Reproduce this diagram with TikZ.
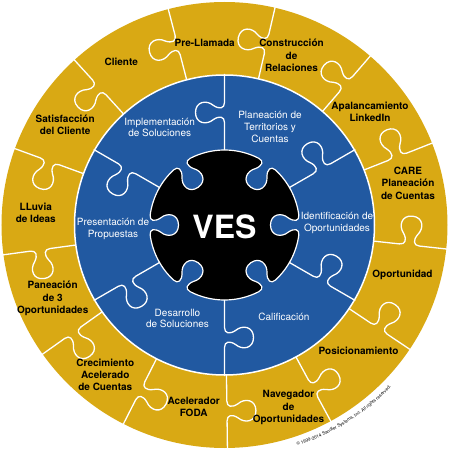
\documentclass[tikz,border=0pt]{standalone}
\usepackage{fontspec}
\setmainfont{TeX Gyre Heros}
\usetikzlibrary{decorations.text}

\definecolor{vesgold}{RGB}{217,169,20}
\definecolor{vesblue}{RGB}{33,89,161}

\tikzset{
  seam/.style={draw=white, line width=1.3pt, line join=round},
  ringlabel/.style={align=center, text=black, font=\bfseries\fontsize{10}{12.3}\selectfont},
  bluelabel/.style={align=center, text=white, font=\fontsize{10}{11.8}\selectfont},
}

\begin{document}
\begin{tikzpicture}[x=1pt, y=1pt]
\useasboundingbox (-224.5,-225) rectangle (224.5,225);

% Outer ring
\fill[vesgold] (0,0) circle (223);
\foreach \k in {0,...,12} {
  \begin{scope}[rotate={104.6+\k*360/13}]
    \draw[seam] (150,0) -- (176,0) .. controls (182,0) and (183,5) .. (179,11)
      .. controls (173,18) and (175,29) .. (186,29) .. controls (197,29) and (199,18) .. (193,11)
      .. controls (189,5) and (190,0) .. (196,0) -- (224,0);
  \end{scope}
}

% Inner ring
\filldraw[fill=vesblue, draw=white, line width=1.5pt] (0,0) circle (150);
\foreach \k in {0,...,5} {
  \begin{scope}[rotate={30+\k*60}]
    \draw[seam] (70,0) -- (102.5,0) .. controls (108.5,0) and (109.5,5) .. (105.5,11)
      .. controls (99.5,18) and (101.5,29) .. (112.5,29) .. controls (123.5,29) and (125.5,18) .. (119.5,11)
      .. controls (115.5,5) and (116.5,0) .. (122.5,0) -- (151,0);
  \end{scope}
}

% Centre piece
\filldraw[fill=black, draw=white, line width=1.2pt] (-7.66:75)
  \foreach \a/\b in {0/55,55/125,125/180,180/235,235/305,305/360} {
    .. controls ([rotate=\a]75,-4) and ([rotate=\a]70,-3) .. ([rotate=\a]64,-7)
    .. controls ([rotate=\a]57,-13) and ([rotate=\a]46,-11) .. ([rotate=\a]46,0)
    .. controls ([rotate=\a]46,11) and ([rotate=\a]57,13) .. ([rotate=\a]64,7)
    .. controls ([rotate=\a]70,3) and ([rotate=\a]75,4) .. (\a+7.66:75)
    arc[start angle=\a+7.66, end angle=\b-7.66, radius=75]
  } -- cycle;
\node[text=white, font=\bfseries\fontsize{32}{34}\selectfont] (ves) at (0,-1.5) {VES};

% Inner labels
\node[bluelabel] (implementacion) at (-64.8,97.5) {Implementación\\de Soluciones};
\node[bluelabel] (planeacion) at (45.5,98.3) {Planeación de\\Territorios y\\Cuentas};
\node[bluelabel] (identificacion) at (112.5,1.7) {Identificación de\\Oportunidades};
\node[bluelabel] (calificacion) at (59.5,-91.7) {Calificación};
\node[bluelabel] (desarrollo) at (-47,-93.5) {Desarrollo\\de Soluciones};
\node[bluelabel] (presentacion) at (-111.5,-3.8) {Presentación de\\Propuestas};

% Outer labels
\node[ringlabel] (prellamada) at (-19.8,182) {Pre-Llamada};
\node[ringlabel] (construccion) at (67,169.5) {Construcción\\de\\Relaciones};
\node[ringlabel] (apalancamiento) at (145.5,113) {Apalancamiento\\LinkedIn};
\node[ringlabel] (care) at (183.5,41.7) {CARE\\Planeación\\de Cuentas};
\node[ringlabel] (oportunidad) at (178,-50) {Oportunidad};
\node[ringlabel] (posicionamiento) at (134,-126) {Posicionamiento};
\node[ringlabel] (navegador) at (64,-182.7) {Navegador\\de\\Oportunidades};
\node[ringlabel] (acelerador) at (-30.8,-181.8) {Acelerador\\FODA};
\node[ringlabel] (crecimiento) at (-119.2,-150) {Crecimiento\\Acelerado\\de Cuentas};
\node[ringlabel] (paneacion) at (-171.8,-73.5) {Paneación\\de 3\\Oportunidades};
\node[ringlabel] (lluvia) at (-188.7,12.5) {LLuvia\\de Ideas};
\node[ringlabel] (satisfaccion) at (-159.3,100.5) {Satisfacción\\del Cliente};
\node[ringlabel] (cliente) at (-103.2,163.3) {Cliente};

% Copyright
\path[decorate, decoration={text along path, text align=center,
  text={|\fontsize{4.6}{5}\selectfont|© 1999-2014 Sandler Systems, Inc. All rights reserved.}}]
  (-75:232.5) arc[start angle=-75, end angle=-41, radius=232.5];
\end{tikzpicture}
\end{document}
